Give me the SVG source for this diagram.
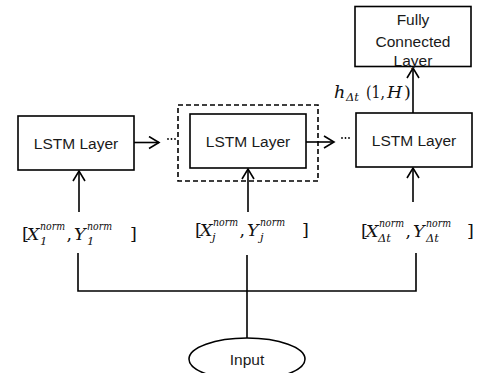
<svg xmlns="http://www.w3.org/2000/svg" width="479" height="373" viewBox="0 0 479 373">
<style>
.box{fill:#fff;stroke:#000;stroke-width:1.6}
.ln{fill:none;stroke:#000;stroke-width:1.6}
.lbl{font-family:"Liberation Sans",Arial,sans-serif;font-size:15.5px;fill:#1a1a1a;text-anchor:middle}
.m{font-family:"DejaVu Serif","Liberation Serif",serif;font-size:17.5px;fill:#111}
.i{font-style:italic}
.s{font-size:11.5px;font-style:italic}
</style>
<defs>
<marker id="ah" viewBox="-12 -7 14 14" refX="0" refY="0" markerWidth="14" markerHeight="14" markerUnits="userSpaceOnUse" orient="auto">
<path d="M-10,-6 L0,0 L-10,6" fill="none" stroke="#000" stroke-width="1.6"/>
</marker>
</defs>
<rect x="0" y="0" width="479" height="373" fill="#fff"/>

<g id="connectors">
<line class="ln" x1="134" y1="142.5" x2="159" y2="142.5" marker-end="url(#ah)"/>
<line class="ln" x1="306" y1="142" x2="334" y2="142" marker-end="url(#ah)"/>
<line class="ln" x1="79" y1="212" x2="79" y2="171" marker-end="url(#ah)"/>
<line class="ln" x1="248" y1="212" x2="248" y2="169" marker-end="url(#ah)"/>
<line class="ln" x1="413" y1="202" x2="413" y2="168" marker-end="url(#ah)"/>
<line class="ln" x1="413" y1="113" x2="413" y2="68" marker-end="url(#ah)"/>
<polyline class="ln" points="78,253 78,291 416,291 416,253"/>
<line class="ln" x1="247" y1="255" x2="247" y2="338"/>
<g fill="#000">
<circle cx="168" cy="139" r="0.9"/><circle cx="171.5" cy="139" r="0.9"/><circle cx="175" cy="139" r="0.9"/>
<circle cx="342" cy="138" r="0.9"/><circle cx="345.5" cy="138" r="0.9"/><circle cx="349" cy="138" r="0.9"/>
</g>
</g>

<g id="lstm1">
<rect class="box" x="18" y="116" width="116" height="54"/>
<text class="lbl" x="76" y="148.5">LSTM Layer</text>
</g>

<g id="lstmj">
<rect x="178" y="105" width="140" height="76" fill="none" stroke="#000" stroke-width="1.6" stroke-dasharray="5 3"/>
<rect class="box" x="190" y="114" width="116" height="54"/>
<text class="lbl" x="248" y="147">LSTM Layer</text>
</g>

<g id="lstmT">
<rect class="box" x="356" y="113" width="116" height="54"/>
<text class="lbl" x="414" y="146">LSTM Layer</text>
</g>

<g id="fc">
<rect class="box" x="355" y="6.5" width="116" height="60"/>
<text class="lbl" x="413" y="25">Fully</text>
<text class="lbl" x="413" y="47">Connected</text>
<text class="lbl" x="413" y="66">Layer</text>
</g>

<g id="hlabel">
<text class="m" y="98"><tspan class="i" x="334">h</tspan><tspan class="s" x="346" y="101">Δt</tspan><tspan x="366" y="98" textLength="19" lengthAdjust="spacingAndGlyphs">(1,</tspan><tspan class="i" x="387">H</tspan><tspan x="404">)</tspan></text>
</g>

<g id="x1">
<text class="m" y="240"><tspan x="22">[</tspan><tspan class="i" x="27">X</tspan><tspan class="s" x="40" y="230" textLength="25" lengthAdjust="spacingAndGlyphs">norm</tspan><tspan class="s" x="40" y="245">1</tspan><tspan x="66.5" y="240">,</tspan><tspan class="i" x="74">Y</tspan><tspan class="s" x="87" y="230" textLength="25" lengthAdjust="spacingAndGlyphs">norm</tspan><tspan class="s" x="87" y="245">1</tspan><tspan x="130" y="240">]</tspan></text>
</g>

<g id="xj">
<text class="m" y="236"><tspan x="195">[</tspan><tspan class="i" x="200">X</tspan><tspan class="s" x="213" y="226" textLength="25" lengthAdjust="spacingAndGlyphs">norm</tspan><tspan class="s" x="212" y="241">j</tspan><tspan x="239.5" y="236">,</tspan><tspan class="i" x="247">Y</tspan><tspan class="s" x="260" y="226" textLength="25" lengthAdjust="spacingAndGlyphs">norm</tspan><tspan class="s" x="260" y="241">j</tspan><tspan x="302" y="236">]</tspan></text>
</g>

<g id="xT">
<text class="m" y="237"><tspan x="361">[</tspan><tspan class="i" x="366">X</tspan><tspan class="s" x="379" y="227" textLength="25" lengthAdjust="spacingAndGlyphs">norm</tspan><tspan class="s" x="378" y="242">Δt</tspan><tspan x="405.5" y="237">,</tspan><tspan class="i" x="413">Y</tspan><tspan class="s" x="426" y="227" textLength="25" lengthAdjust="spacingAndGlyphs">norm</tspan><tspan class="s" x="426" y="242">Δt</tspan><tspan x="467" y="237">]</tspan></text>
</g>

<g id="input">
<ellipse class="box" cx="247" cy="359" rx="58" ry="21"/>
<text class="lbl" x="247" y="365">Input</text>
</g>
</svg>
